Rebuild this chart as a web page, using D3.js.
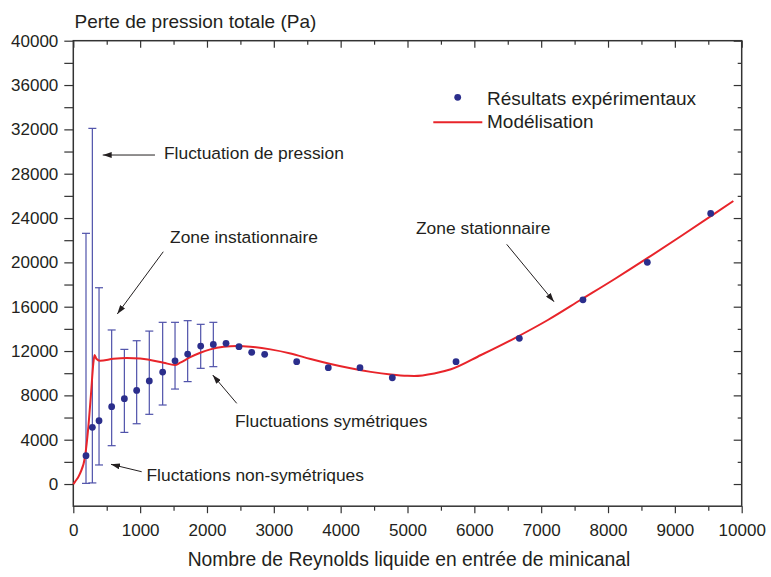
<!DOCTYPE html>
<html>
<head>
<meta charset="utf-8">
<script src="https://cdn.jsdelivr.net/npm/d3@7"></script>
<style>
  html, body { margin: 0; padding: 0; background: #ffffff; }
  svg { display: block; }
  text { font-family: "Liberation Sans", Arial, Helvetica, sans-serif; fill: #231f20; }
</style>
</head>
<body>
<svg id="chart" width="771" height="577"></svg>
<script>
// ---------- DATA ----------
// Experimental results (Reynolds number, total pressure loss in Pa)
const reynolds = [190, 285, 385, 574, 764, 948, 1137, 1337, 1522, 1711, 1906, 2095, 2285, 2479, 2669, 2863, 3342, 3815, 4289, 4773, 5726, 6673, 7625, 8588, 9536];
const pressure = [2560, 5120, 5710, 6980, 7700, 8450, 9300, 10100, 11120, 11730, 12450, 12600, 12700, 12390, 11880, 11700, 11040, 10500, 10500, 9590, 11040, 13150, 16620, 20000, 24420];
// Pressure fluctuation ranges (first 12 experimental points)
const errLow  = [60, 100, 1720, 3460, 4660, 5440, 6290, 7130, 8570, 9240, 10440, 10590];
const errHigh = [22620, 32090, 17710, 13900, 12150, 12930, 13800, 14590, 14590, 14740, 14410, 14590];
// Model curve
const modelRe = [0, 25, 100, 175, 225, 265, 300, 318, 345, 400, 600, 800, 1000, 1150, 1350, 1520, 1600, 1750, 1900, 2050, 2250, 2450, 2650, 2950, 3250, 3550, 3850, 4150, 4450, 4750, 5000, 5100, 5400, 5650, 6100, 6600, 7100, 7600, 8100, 8600, 9100, 9600, 9875];
const modelDp = [0, 200, 950, 2450, 5150, 8150, 10900, 11650, 11300, 11120, 11300, 11380, 11330, 11200, 10950, 10740, 10950, 11450, 11850, 12150, 12380, 12450, 12390, 12150, 11780, 11280, 10830, 10440, 10120, 9880, 9760, 9750, 9980, 10350, 11640, 13150, 14800, 16650, 18500, 20420, 22400, 24420, 25540];
// Axis ticks
const xMajor = [0, 1000, 2000, 3000, 4000, 5000, 6000, 7000, 8000, 9000, 10000];
const xMinor = [500, 1500, 2500, 3500, 4500, 5500, 6500, 7500, 8500, 9500];
const yMajor = [0, 4000, 8000, 12000, 16000, 20000, 24000, 28000, 32000, 36000, 40000];
const yMinor = [2000, 6000, 10000, 14000, 18000, 22000, 26000, 30000, 34000, 38000];
// Texts
const yTitle = "Perte de pression totale (Pa)";
const xTitle = "Nombre de Reynolds liquide en entrée de minicanal";
const legendLabels = ["Résultats expérimentaux", "Modélisation"];
// Annotations: label, label anchor (Re, Pa), arrow start (Re, Pa), arrow end (Re, Pa)
const annLabels = ["Fluctuation de pression", "Zone instationnaire", "Fluctuations symétriques", "Fluctations non-symétriques", "Zone stationnaire"];
const annText  = [[1357, 29325], [1447, 21718], [2419, 5143], [1095, 316], [5127, 22557]];
const annFrom  = [[1222, 29685], [1346, 20960], [2445, 7281], [1023, 1110], [6484, 21628]];
const annTo    = [[440, 29685], [658, 15339], [2086, 9835], [564, 1777], [7192, 16449]];

// ---------- CHART ----------
const svg = d3.select("#chart");
const L = 73.3, R = 741.7, T = 40.7, B = 506.2;
const x = d3.scaleLinear().domain([0, 10000]).range([L, R]);
const y = d3.scaleLinear().domain([-2000, 40000]).range([B, T]);
const axisColor = "#333333";
const fmt = d3.format("d");

function styleAxis(g) {
  g.select(".domain").remove();
  g.selectAll(".tick line").attr("stroke", axisColor).attr("stroke-width", 1.2);
  g.selectAll(".tick text").style("font-size", "17px").attr("fill", "#231f20")
    .style("font-family", "'Liberation Sans', Arial, Helvetica, sans-serif");
}

// Left axis
svg.append("g").attr("transform", `translate(${L},0)`)
  .call(d3.axisLeft(y).tickValues(yMajor).tickFormat(fmt).tickSize(9).tickSizeOuter(0).tickPadding(6))
  .call(styleAxis);
svg.append("g").attr("transform", `translate(${L},0)`)
  .call(d3.axisLeft(y).tickValues(yMinor).tickFormat("").tickSize(9).tickSizeOuter(0))
  .call(styleAxis);
// Right axis (inner ticks)
svg.append("g").attr("transform", `translate(${R},0)`)
  .call(d3.axisLeft(y).tickValues(yMajor).tickFormat("").tickSize(8).tickSizeOuter(0))
  .call(styleAxis);
svg.append("g").attr("transform", `translate(${R},0)`)
  .call(d3.axisLeft(y).tickValues(yMinor).tickFormat("").tickSize(4).tickSizeOuter(0))
  .call(styleAxis);
// Bottom axis
svg.append("g").attr("transform", `translate(0,${B})`)
  .call(d3.axisBottom(x).tickValues(xMajor).tickFormat(fmt).tickSize(7).tickSizeOuter(0).tickPadding(11))
  .call(styleAxis);
svg.append("g").attr("transform", `translate(0,${B})`)
  .call(d3.axisBottom(x).tickValues(xMinor).tickFormat("").tickSize(4.5).tickSizeOuter(0))
  .call(styleAxis);
// Top axis (inner ticks)
svg.append("g").attr("transform", `translate(0,${T})`)
  .call(d3.axisBottom(x).tickValues(xMajor).tickFormat("").tickSize(7).tickSizeOuter(0))
  .call(styleAxis);
svg.append("g").attr("transform", `translate(0,${T})`)
  .call(d3.axisBottom(x).tickValues(xMinor).tickFormat("").tickSize(4).tickSizeOuter(0))
  .call(styleAxis);
// Frame
svg.append("rect").attr("x", L).attr("y", T).attr("width", R - L).attr("height", B - T)
  .attr("fill", "none").attr("stroke", axisColor).attr("stroke-width", 1.5);

// Titles
svg.append("text").attr("x", 74.5).attr("y", 28).style("font-size", "19px").text(yTitle);
svg.append("text").attr("x", 409).attr("y", 566).attr("text-anchor", "middle").style("font-size", "19.3px").text(xTitle);

// Error bars
const errColor = "#4f52aa";
const eb = svg.append("g").attr("stroke", errColor).attr("stroke-width", 1.2).attr("fill", "none");
errLow.forEach((lo, i) => {
  const cx = x(reynolds[i]);
  eb.append("line").attr("x1", cx).attr("x2", cx).attr("y1", y(lo)).attr("y2", y(errHigh[i]));
  eb.append("line").attr("x1", cx - 4).attr("x2", cx + 4).attr("y1", y(lo)).attr("y2", y(lo));
  eb.append("line").attr("x1", cx - 4).attr("x2", cx + 4).attr("y1", y(errHigh[i])).attr("y2", y(errHigh[i]));
});

// Model line
const lineGen = d3.line().x((d, i) => x(modelRe[i])).y((d, i) => y(modelDp[i])).curve(d3.curveMonotoneX);
svg.append("path").datum(modelRe).attr("d", lineGen)
  .attr("fill", "none").attr("stroke", "#e8242a").attr("stroke-width", 2);

// Points
svg.append("g").selectAll("circle").data(reynolds).join("circle")
  .attr("cx", (d) => x(d)).attr("cy", (d, i) => y(pressure[i])).attr("r", 3.4)
  .attr("fill", "#2b2e8c");

// Legend
svg.append("circle").attr("cx", 457.7).attr("cy", 97.3).attr("r", 3.4).attr("fill", "#2b2e8c");
svg.append("text").attr("x", 487).attr("y", 105).style("font-size", "19px").text(legendLabels[0]);
svg.append("line").attr("x1", 433.3).attr("x2", 482.3).attr("y1", 122.3).attr("y2", 122.3)
  .attr("stroke", "#e8242a").attr("stroke-width", 2);
svg.append("text").attr("x", 487).attr("y", 128.3).style("font-size", "19px").text(legendLabels[1]);

// Annotations
const defs = svg.append("defs");
defs.append("marker").attr("id", "arr").attr("markerUnits", "userSpaceOnUse")
  .attr("markerWidth", 9).attr("markerHeight", 6).attr("viewBox", "0 0 9 6")
  .attr("refX", 9).attr("refY", 3).attr("orient", "auto")
  .append("path").attr("d", "M0,0 L9,3 L0,6 Z").attr("fill", "#231f20");
annLabels.forEach((lab, i) => {
  svg.append("line")
    .attr("x1", x(annFrom[i][0])).attr("y1", y(annFrom[i][1]))
    .attr("x2", x(annTo[i][0])).attr("y2", y(annTo[i][1]))
    .attr("stroke", "#231f20").attr("stroke-width", 1).attr("marker-end", "url(#arr)");
  svg.append("text").attr("x", x(annText[i][0])).attr("y", y(annText[i][1]))
    .style("font-size", "17.4px").text(lab);
});
</script>
</body>
</html>
